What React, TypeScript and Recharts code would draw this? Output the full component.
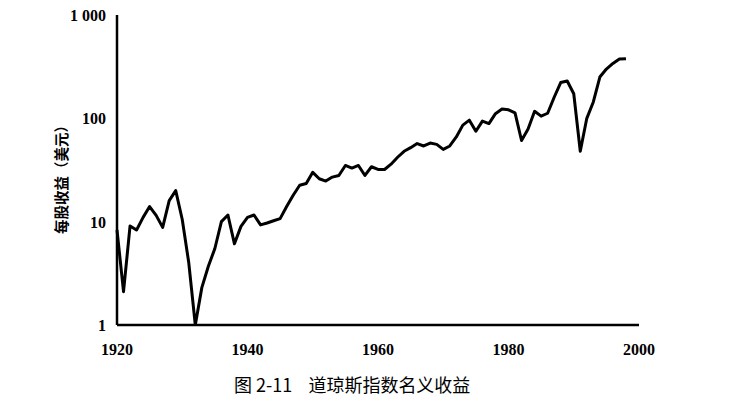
import { LineChart, Line, XAxis, YAxis } from 'recharts';

// Dow Jones index, nominal earnings per share (USD), annual
const years = [
  1920, 1921, 1922, 1923, 1924, 1925, 1926, 1927, 1928, 1929,
  1930, 1931, 1932, 1933, 1934, 1935, 1936, 1937, 1938, 1939,
  1940, 1941, 1942, 1943, 1944, 1945, 1946, 1947, 1948, 1949,
  1950, 1951, 1952, 1953, 1954, 1955, 1956, 1957, 1958, 1959,
  1960, 1961, 1962, 1963, 1964, 1965, 1966, 1967, 1968, 1969,
  1970, 1971, 1972, 1973, 1974, 1975, 1976, 1977, 1978, 1979,
  1980, 1981, 1982, 1983, 1984, 1985, 1986, 1987, 1988, 1989,
  1990, 1991, 1992, 1993, 1994, 1995, 1996, 1997, 1998,
];

const earnings = [
  8.3, 2.1, 9.1, 8.3, 11, 14, 11.5, 8.8, 16, 20,
  10.5, 4, 1.0, 2.3, 3.7, 5.5, 10, 11.6, 6.1, 9,
  11, 11.6, 9.3, 9.7, 10.2, 10.7, 14, 18, 22.5, 23.4,
  30, 26, 24.7, 27, 28, 35, 33, 35, 28, 34,
  32, 32, 36, 42, 48, 52, 57, 54, 57.7, 56,
  50, 54, 66, 86, 96, 75, 94, 89, 111, 123,
  121, 113, 61, 79, 117, 105, 112, 160, 222, 230,
  173, 48, 100, 144, 251, 300, 340, 375, 378,
];

const xTicks = [1920, 1940, 1960, 1980, 2000];
const yTicks = [1, 10, 100, 1000];
const yTickLabels = ['1', '10', '100', '1 000'];

const yLabel = '每股收益（美元）';
const caption = '图 2-11    道琼斯指数名义收益';

const data = years.map((year, i) => ({ year, eps: earnings[i] }));

const tickFont = {
  fontFamily: '"Liberation Serif", "DejaVu Serif", serif',
  fontWeight: 700,
  fontSize: 16,
  fill: '#000',
};

function XTick({ x, y, payload }: any) {
  return (
    <text x={x} y={y + 30} textAnchor="middle" {...tickFont}>
      {payload.value}
    </text>
  );
}

function YTick({ x, y, payload }: any) {
  const idx = yTicks.indexOf(payload.value);
  return (
    <text x={x - 11} y={y + 6} textAnchor="end" {...tickFont}>
      {yTickLabels[idx]}
    </text>
  );
}

export default function App() {
  return (
    <div style={{ position: 'absolute', left: 0, top: 0, width: 750, height: 404, background: '#fff' }}>
      <LineChart
        width={750}
        height={404}
        data={data}
        margin={{ top: 15, right: 111, bottom: 49, left: 57 }}
      >
        <XAxis
          dataKey="year"
          type="number"
          domain={[1920, 2000]}
          ticks={xTicks}
          tickLine={false}
          tickSize={0}
          tickMargin={0}
          height={30}
          axisLine={{ stroke: '#000', strokeWidth: 2.5 }}
          tick={<XTick />}
        />
        <YAxis
          scale="log"
          domain={[1, 1000]}
          allowDataOverflow
          ticks={yTicks}
          tickLine={false}
          tickSize={0}
          tickMargin={0}
          width={60}
          axisLine={{ stroke: '#000', strokeWidth: 2.5 }}
          tick={<YTick />}
        />
        <Line
          type="linear"
          dataKey="eps"
          stroke="#000"
          strokeWidth={3}
          strokeLinejoin="round"
          dot={false}
          isAnimationActive={false}
        />
      </LineChart>
      <div
        style={{
          position: 'absolute',
          left: 60,
          top: 176,
          transform: 'translate(-50%, -50%) rotate(-90deg)',
          whiteSpace: 'nowrap',
          fontFamily: '"Noto Sans CJK SC", sans-serif',
          fontWeight: 700,
          fontSize: 14.5,
          color: '#000',
        }}
      >
        {yLabel}
      </div>
      <div
        style={{
          position: 'absolute',
          left: 234,
          top: 371,
          whiteSpace: 'pre',
          fontFamily: '"Noto Sans CJK SC", sans-serif',
          fontSize: 18,
          lineHeight: '26px',
          color: '#000',
        }}
      >
        {caption}
      </div>
    </div>
  );
}
